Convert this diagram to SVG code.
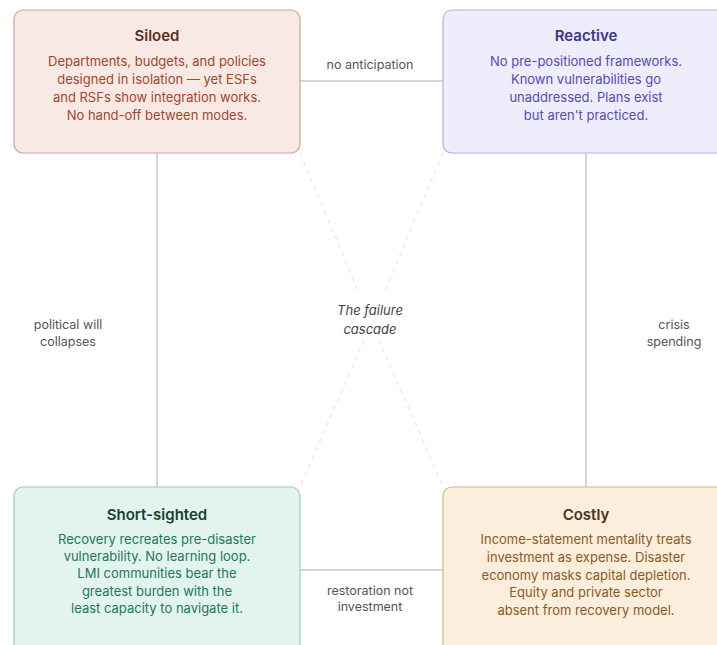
<svg xmlns="http://www.w3.org/2000/svg" width="717" height="645" viewBox="0 0 717 645">
<style>
text{font-family:Inter,"Noto Sans","Liberation Sans",sans-serif;text-anchor:middle}
.t{font-size:15px;font-weight:600}
.b{font-size:13px}
.lbl{font-size:12.5px;fill:#555}
.conn{stroke:#c9c9c9;stroke-width:1.5;fill:none}
.diag{stroke:#dedede;stroke-width:1;stroke-dasharray:4 5;fill:none}
</style>
<rect width="717" height="645" fill="#ffffff"/>
<g id="connectors">
<line class="conn" x1="300" y1="81" x2="443" y2="81"/>
<line class="conn" x1="300" y1="570" x2="443" y2="570"/>
<line class="conn" x1="157" y1="153" x2="157" y2="487"/>
<line class="conn" x1="586" y1="153" x2="586" y2="487"/>
<line class="diag" x1="300" y1="153" x2="359" y2="293"/>
<line class="diag" x1="379" y1="340" x2="443" y2="487"/>
<line class="diag" x1="443" y1="153" x2="384" y2="293"/>
<line class="diag" x1="364" y1="340" x2="300" y2="487"/>
<text class="lbl" x="370" y="69">no anticipation</text>
<text class="lbl" x="68" y="329">political will</text>
<text class="lbl" x="68" y="346">collapses</text>
<text class="lbl" x="674" y="329">crisis</text>
<text class="lbl" x="674" y="346">spending</text>
<text class="lbl" x="370" y="595">restoration not</text>
<text class="lbl" x="370" y="611">investment</text>
<text x="370" y="315" style="font-size:13px;font-style:italic;fill:#444">The failure</text>
<text x="370" y="334" style="font-size:13px;font-style:italic;fill:#444">cascade</text>
</g>
<g id="siloed">
<rect x="14" y="10" width="286" height="143" rx="9" fill="#f9e9e4" stroke="#c9a79c" stroke-width="1.2"/>
<text class="t" x="157" y="41" fill="#5c2f25">Siloed</text>
<text class="b" x="157" y="66" fill="#a2462d">Departments, budgets, and policies</text>
<text class="b" x="157" y="84" fill="#a2462d">designed in isolation — yet ESFs</text>
<text class="b" x="157" y="102" fill="#a2462d">and RSFs show integration works.</text>
<text class="b" x="157" y="120" fill="#a2462d">No hand-off between modes.</text>
</g>
<g id="reactive">
<rect x="443" y="10" width="286" height="143" rx="9" fill="#eeedfb" stroke="#b5b1dc" stroke-width="1.2"/>
<text class="t" x="586" y="41" fill="#3d3589">Reactive</text>
<text class="b" x="586" y="66" fill="#554bb5">No pre-positioned frameworks.</text>
<text class="b" x="586" y="84" fill="#554bb5">Known vulnerabilities go</text>
<text class="b" x="586" y="102" fill="#554bb5">unaddressed. Plans exist</text>
<text class="b" x="586" y="120" fill="#554bb5">but aren't practiced.</text>
</g>
<g id="short-sighted">
<rect x="14" y="487" width="286" height="170" rx="9" fill="#e3f4ee" stroke="#a2c8b9" stroke-width="1.2"/>
<text class="t" x="157" y="520" fill="#17402f">Short-sighted</text>
<text class="b" x="157" y="544" fill="#21785a">Recovery recreates pre-disaster</text>
<text class="b" x="157" y="561" fill="#21785a">vulnerability. No learning loop.</text>
<text class="b" x="157" y="578" fill="#21785a">LMI communities bear the</text>
<text class="b" x="157" y="596" fill="#21785a">greatest burden with the</text>
<text class="b" x="157" y="613" fill="#21785a">least capacity to navigate it.</text>
</g>
<g id="costly">
<rect x="443" y="487" width="286" height="170" rx="9" fill="#fbeedc" stroke="#d2b48b" stroke-width="1.2"/>
<text class="t" x="586" y="520" fill="#4b3419">Costly</text>
<text class="b" x="586" y="544" fill="#8b5b1e">Income-statement mentality treats</text>
<text class="b" x="586" y="562" fill="#8b5b1e">investment as expense. Disaster</text>
<text class="b" x="586" y="580" fill="#8b5b1e">economy masks capital depletion.</text>
<text class="b" x="586" y="597" fill="#8b5b1e">Equity and private sector</text>
<text class="b" x="586" y="615" fill="#8b5b1e">absent from recovery model.</text>
</g>
</svg>
